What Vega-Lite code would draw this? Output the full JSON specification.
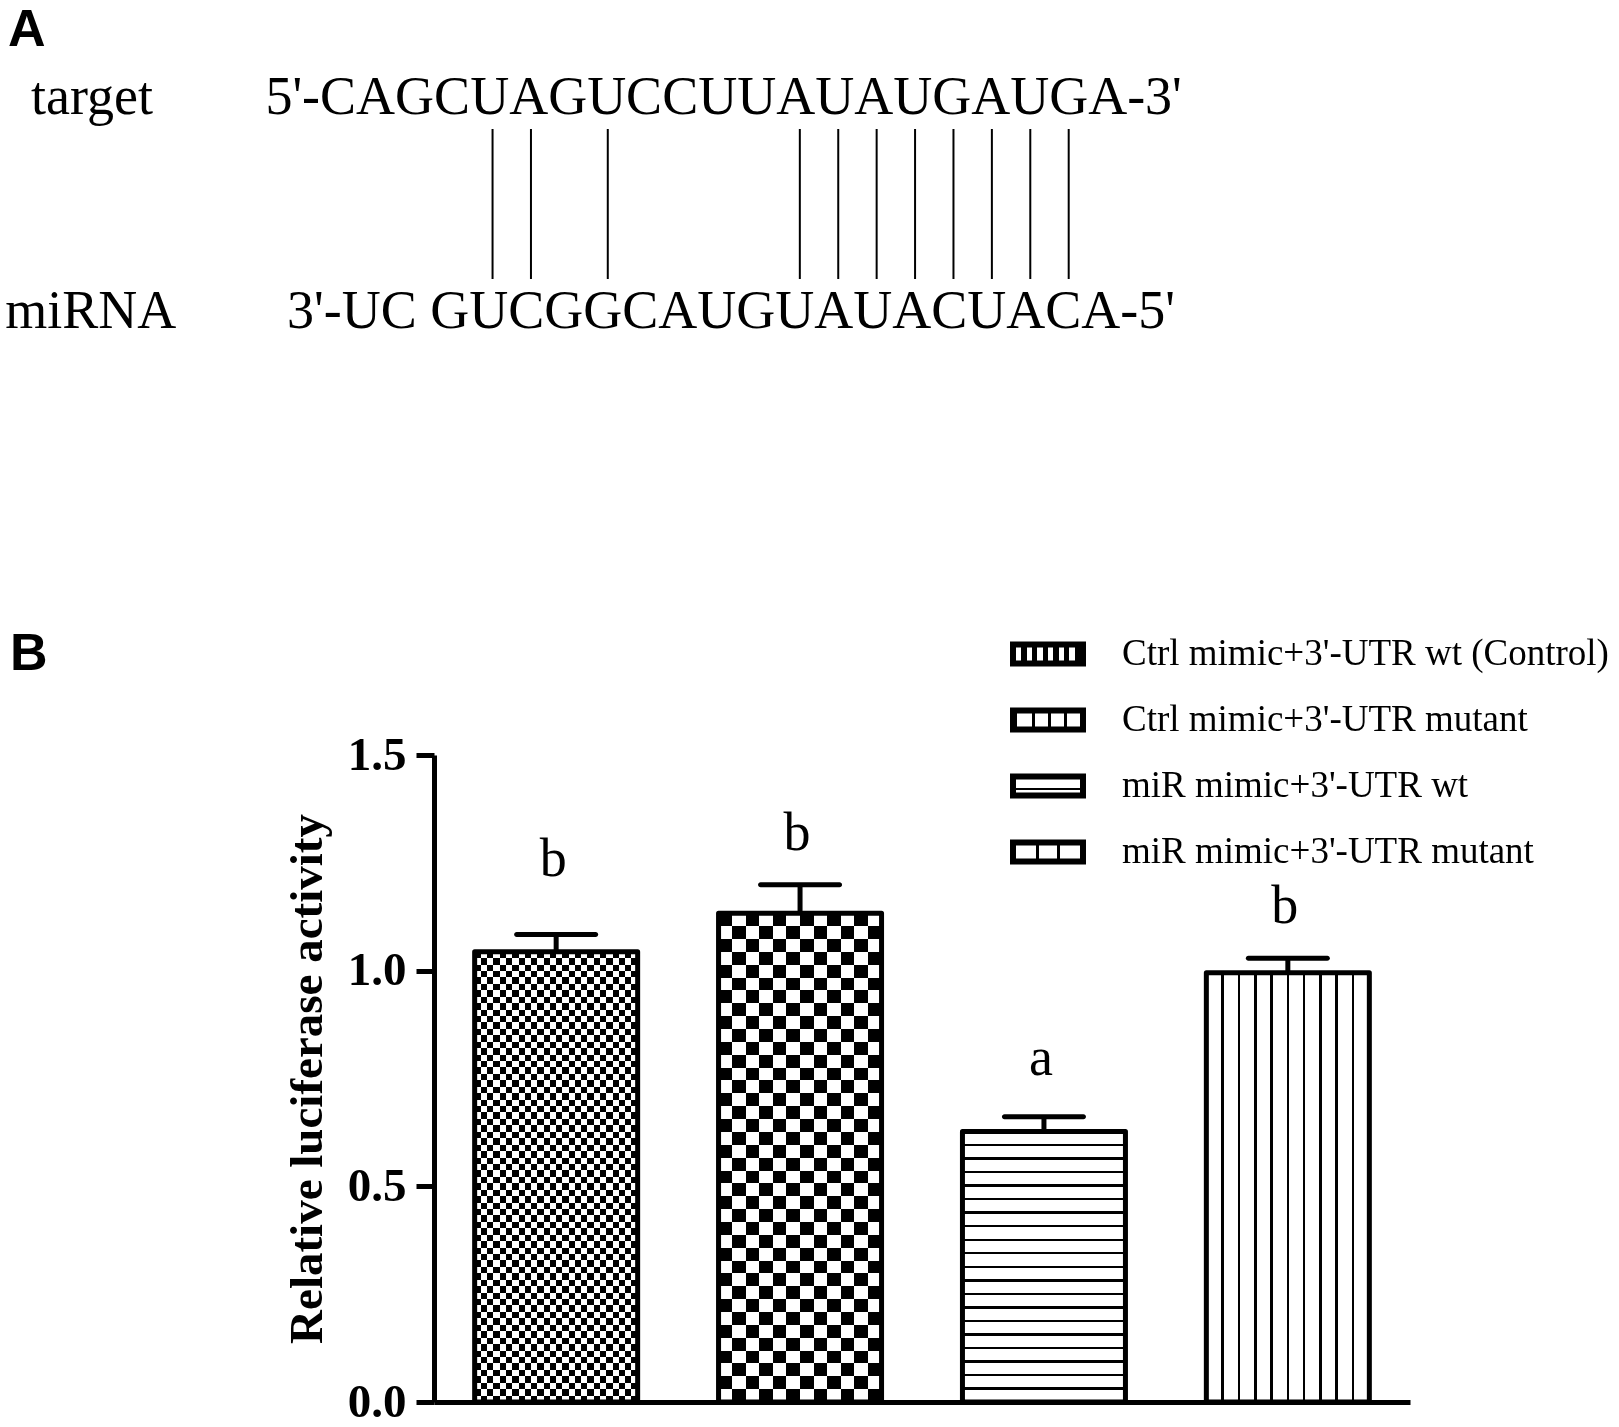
{
"$schema": "https://vega.github.io/schema/vega-lite/v6.json",
"width": 976,
"height": 647,
"autosize": {"type": "none"},
"padding": {"left": 434, "top": 755, "right": 209, "bottom": 25},
"background": "white",
"config": {"view": {"stroke": null}},
"resolve": {"scale": {"x": "independent", "y": "independent"}, "axis": {"x": "independent", "y": "independent"}},
"layer": [
{
 "encoding": {
  "x": {"field": "pos", "type": "quantitative", "scale": {"domain": [0, 20], "range": [-133.5, 634.7], "zero": false, "nice": false}, "axis": null},
  "y": {"field": "row", "type": "quantitative", "scale": {"domain": [0, 1], "range": [-427, -641], "zero": false, "nice": false}, "axis": null}
 },
 "layer": [
  {"data": {"values": [
    {"label": "target", "pos": -7.016, "row": 1},
    {"label": "5'-CAGCUAGUCCUUAUAUGAUGA-3'", "pos": -0.914, "row": 1},
    {"label": "miRNA", "pos": -7.688, "row": 0},
    {"label": "3'-UC GUCGGCAUGUAUACUACA-5'", "pos": -0.351, "row": 0}
   ]},
   "mark": {"type": "text", "font": "Liberation Serif", "fontSize": 54, "align": "left", "baseline": "alphabetic", "color": "black"},
   "encoding": {"text": {"field": "label"}}},
  {"data": {"values": [
    {"pos": 5, "row": 0.229, "row2": 0.93}, {"pos": 6, "row": 0.229, "row2": 0.93}, {"pos": 8, "row": 0.229, "row2": 0.93},
    {"pos": 13, "row": 0.229, "row2": 0.93}, {"pos": 14, "row": 0.229, "row2": 0.93}, {"pos": 15, "row": 0.229, "row2": 0.93},
    {"pos": 16, "row": 0.229, "row2": 0.93}, {"pos": 17, "row": 0.229, "row2": 0.93}, {"pos": 18, "row": 0.229, "row2": 0.93},
    {"pos": 19, "row": 0.229, "row2": 0.93}, {"pos": 20, "row": 0.229, "row2": 0.93}]},
   "mark": {"type": "rule", "color": "black", "strokeWidth": 2},
   "encoding": {"y2": {"field": "row2"}}},
  {"data": {"values": [{"label": "A", "pos": -7.615, "row": 1.318}, {"label": "B", "pos": -7.563, "row": -1.598}]},
   "mark": {"type": "text", "font": "Liberation Sans", "fontWeight": "bold", "fontSize": 52, "align": "left", "baseline": "alphabetic", "color": "black"},
   "encoding": {"text": {"field": "label"}}}
 ]
},
{
 "data": {"values": [
  {"id": 1, "group": "Ctrl mimic+3'-UTR wt (Control)", "value": 1.044, "upper": 1.084, "sig": "b", "label_y": 1.2195},
  {"id": 2, "group": "Ctrl mimic+3'-UTR mutant", "value": 1.133, "upper": 1.199, "sig": "b", "label_y": 1.28},
  {"id": 3, "group": "miR mimic+3'-UTR wt", "value": 0.627, "upper": 0.6615, "sig": "a", "label_y": 0.758},
  {"id": 4, "group": "miR mimic+3'-UTR mutant", "value": 0.995, "upper": 1.029, "sig": "b", "label_y": 1.1105}
 ]},
 "encoding": {
  "x": {"field": "group", "type": "nominal", "sort": null,
        "scale": {"domain": ["Ctrl mimic+3'-UTR wt (Control)", "Ctrl mimic+3'-UTR mutant", "miR mimic+3'-UTR wt", "miR mimic+3'-UTR mutant"], "paddingInner": 0.3317, "paddingOuter": 0.1667},
        "axis": {"orient": "bottom", "title": null, "labels": false, "ticks": false, "grid": false, "domain": true, "domainColor": "black", "domainWidth": 5}},
  "y": {"field": "value", "type": "quantitative", "title": "Relative luciferase activity",
        "scale": {"domain": [0, 1.5], "nice": false, "zero": true},
        "axis": {"orient": "left", "values": [0, 0.5, 1, 1.5], "format": ".1f", "grid": false,
                 "labelFont": "Liberation Serif", "labelFontWeight": "bold", "labelFontSize": 47, "labelColor": "black", "labelPadding": 10, "labelFlush": false, "labelOverlap": false,
                 "tickSize": 18, "tickWidth": 5, "tickColor": "black", "domainWidth": 5, "domainColor": "black",
                 "title": "Relative luciferase activity", "titleFont": "Liberation Serif", "titleFontWeight": "bold", "titleFontSize": 47, "titleColor": "black", "titlePadding": 16}}
 },
 "layer": [
  {"mark": {"type": "bar", "strokeWidth": 0},
   "encoding": {"fill": {"condition": [
     {"test": "datum.id === 1", "value": {"gradient": "linear", "x1": 0, "y1": 0, "x2": 0, "y2": 1, "stops": [
{"offset":0,"color":"#000"},{"offset":0.0143,"color":"#000"},{"offset":0.0143,"color":"#fff"},{"offset":0.0286,"color":"#fff"},
{"offset":0.0286,"color":"#000"},{"offset":0.0429,"color":"#000"},{"offset":0.0429,"color":"#fff"},{"offset":0.0571,"color":"#fff"},
{"offset":0.0571,"color":"#000"},{"offset":0.0714,"color":"#000"},{"offset":0.0714,"color":"#fff"},{"offset":0.0857,"color":"#fff"},
{"offset":0.0857,"color":"#000"},{"offset":0.1,"color":"#000"},{"offset":0.1,"color":"#fff"},{"offset":0.1143,"color":"#fff"},
{"offset":0.1143,"color":"#000"},{"offset":0.1286,"color":"#000"},{"offset":0.1286,"color":"#fff"},{"offset":0.1429,"color":"#fff"},
{"offset":0.1429,"color":"#000"},{"offset":0.1571,"color":"#000"},{"offset":0.1571,"color":"#fff"},{"offset":0.1714,"color":"#fff"},
{"offset":0.1714,"color":"#000"},{"offset":0.1857,"color":"#000"},{"offset":0.1857,"color":"#fff"},{"offset":0.2,"color":"#fff"},
{"offset":0.2,"color":"#000"},{"offset":0.2143,"color":"#000"},{"offset":0.2143,"color":"#fff"},{"offset":0.2286,"color":"#fff"},
{"offset":0.2286,"color":"#000"},{"offset":0.2429,"color":"#000"},{"offset":0.2429,"color":"#fff"},{"offset":0.2571,"color":"#fff"},
{"offset":0.2571,"color":"#000"},{"offset":0.2714,"color":"#000"},{"offset":0.2714,"color":"#fff"},{"offset":0.2857,"color":"#fff"},
{"offset":0.2857,"color":"#000"},{"offset":0.3,"color":"#000"},{"offset":0.3,"color":"#fff"},{"offset":0.3143,"color":"#fff"},
{"offset":0.3143,"color":"#000"},{"offset":0.3286,"color":"#000"},{"offset":0.3286,"color":"#fff"},{"offset":0.3429,"color":"#fff"},
{"offset":0.3429,"color":"#000"},{"offset":0.3571,"color":"#000"},{"offset":0.3571,"color":"#fff"},{"offset":0.3714,"color":"#fff"},
{"offset":0.3714,"color":"#000"},{"offset":0.3857,"color":"#000"},{"offset":0.3857,"color":"#fff"},{"offset":0.4,"color":"#fff"},
{"offset":0.4,"color":"#000"},{"offset":0.4143,"color":"#000"},{"offset":0.4143,"color":"#fff"},{"offset":0.4286,"color":"#fff"},
{"offset":0.4286,"color":"#000"},{"offset":0.4429,"color":"#000"},{"offset":0.4429,"color":"#fff"},{"offset":0.4571,"color":"#fff"},
{"offset":0.4571,"color":"#000"},{"offset":0.4714,"color":"#000"},{"offset":0.4714,"color":"#fff"},{"offset":0.4857,"color":"#fff"},
{"offset":0.4857,"color":"#000"},{"offset":0.5,"color":"#000"},{"offset":0.5,"color":"#fff"},{"offset":0.5143,"color":"#fff"},
{"offset":0.5143,"color":"#000"},{"offset":0.5286,"color":"#000"},{"offset":0.5286,"color":"#fff"},{"offset":0.5429,"color":"#fff"},
{"offset":0.5429,"color":"#000"},{"offset":0.5571,"color":"#000"},{"offset":0.5571,"color":"#fff"},{"offset":0.5714,"color":"#fff"},
{"offset":0.5714,"color":"#000"},{"offset":0.5857,"color":"#000"},{"offset":0.5857,"color":"#fff"},{"offset":0.6,"color":"#fff"},
{"offset":0.6,"color":"#000"},{"offset":0.6143,"color":"#000"},{"offset":0.6143,"color":"#fff"},{"offset":0.6286,"color":"#fff"},
{"offset":0.6286,"color":"#000"},{"offset":0.6429,"color":"#000"},{"offset":0.6429,"color":"#fff"},{"offset":0.6571,"color":"#fff"},
{"offset":0.6571,"color":"#000"},{"offset":0.6714,"color":"#000"},{"offset":0.6714,"color":"#fff"},{"offset":0.6857,"color":"#fff"},
{"offset":0.6857,"color":"#000"},{"offset":0.7,"color":"#000"},{"offset":0.7,"color":"#fff"},{"offset":0.7143,"color":"#fff"},
{"offset":0.7143,"color":"#000"},{"offset":0.7286,"color":"#000"},{"offset":0.7286,"color":"#fff"},{"offset":0.7429,"color":"#fff"},
{"offset":0.7429,"color":"#000"},{"offset":0.7571,"color":"#000"},{"offset":0.7571,"color":"#fff"},{"offset":0.7714,"color":"#fff"},
{"offset":0.7714,"color":"#000"},{"offset":0.7857,"color":"#000"},{"offset":0.7857,"color":"#fff"},{"offset":0.8,"color":"#fff"},
{"offset":0.8,"color":"#000"},{"offset":0.8143,"color":"#000"},{"offset":0.8143,"color":"#fff"},{"offset":0.8286,"color":"#fff"},
{"offset":0.8286,"color":"#000"},{"offset":0.8429,"color":"#000"},{"offset":0.8429,"color":"#fff"},{"offset":0.8571,"color":"#fff"},
{"offset":0.8571,"color":"#000"},{"offset":0.8714,"color":"#000"},{"offset":0.8714,"color":"#fff"},{"offset":0.8857,"color":"#fff"},
{"offset":0.8857,"color":"#000"},{"offset":0.9,"color":"#000"},{"offset":0.9,"color":"#fff"},{"offset":0.9143,"color":"#fff"},
{"offset":0.9143,"color":"#000"},{"offset":0.9286,"color":"#000"},{"offset":0.9286,"color":"#fff"},{"offset":0.9429,"color":"#fff"},
{"offset":0.9429,"color":"#000"},{"offset":0.9571,"color":"#000"},{"offset":0.9571,"color":"#fff"},{"offset":0.9714,"color":"#fff"},
{"offset":0.9714,"color":"#000"},{"offset":0.9857,"color":"#000"},{"offset":0.9857,"color":"#fff"},{"offset":1,"color":"#fff"}
     ]}},
     {"test": "datum.id === 2", "value": {"gradient": "linear", "x1": 0, "y1": 0, "x2": 0, "y2": 1, "stops": [
{"offset":0,"color":"#000"},{"offset":0.0263,"color":"#000"},{"offset":0.0263,"color":"#fff"},{"offset":0.0526,"color":"#fff"},
{"offset":0.0526,"color":"#000"},{"offset":0.0789,"color":"#000"},{"offset":0.0789,"color":"#fff"},{"offset":0.1053,"color":"#fff"},
{"offset":0.1053,"color":"#000"},{"offset":0.1316,"color":"#000"},{"offset":0.1316,"color":"#fff"},{"offset":0.1579,"color":"#fff"},
{"offset":0.1579,"color":"#000"},{"offset":0.1842,"color":"#000"},{"offset":0.1842,"color":"#fff"},{"offset":0.2105,"color":"#fff"},
{"offset":0.2105,"color":"#000"},{"offset":0.2368,"color":"#000"},{"offset":0.2368,"color":"#fff"},{"offset":0.2632,"color":"#fff"},
{"offset":0.2632,"color":"#000"},{"offset":0.2895,"color":"#000"},{"offset":0.2895,"color":"#fff"},{"offset":0.3158,"color":"#fff"},
{"offset":0.3158,"color":"#000"},{"offset":0.3421,"color":"#000"},{"offset":0.3421,"color":"#fff"},{"offset":0.3684,"color":"#fff"},
{"offset":0.3684,"color":"#000"},{"offset":0.3947,"color":"#000"},{"offset":0.3947,"color":"#fff"},{"offset":0.4211,"color":"#fff"},
{"offset":0.4211,"color":"#000"},{"offset":0.4474,"color":"#000"},{"offset":0.4474,"color":"#fff"},{"offset":0.4737,"color":"#fff"},
{"offset":0.4737,"color":"#000"},{"offset":0.5,"color":"#000"},{"offset":0.5,"color":"#fff"},{"offset":0.5263,"color":"#fff"},
{"offset":0.5263,"color":"#000"},{"offset":0.5526,"color":"#000"},{"offset":0.5526,"color":"#fff"},{"offset":0.5789,"color":"#fff"},
{"offset":0.5789,"color":"#000"},{"offset":0.6053,"color":"#000"},{"offset":0.6053,"color":"#fff"},{"offset":0.6316,"color":"#fff"},
{"offset":0.6316,"color":"#000"},{"offset":0.6579,"color":"#000"},{"offset":0.6579,"color":"#fff"},{"offset":0.6842,"color":"#fff"},
{"offset":0.6842,"color":"#000"},{"offset":0.7105,"color":"#000"},{"offset":0.7105,"color":"#fff"},{"offset":0.7368,"color":"#fff"},
{"offset":0.7368,"color":"#000"},{"offset":0.7632,"color":"#000"},{"offset":0.7632,"color":"#fff"},{"offset":0.7895,"color":"#fff"},
{"offset":0.7895,"color":"#000"},{"offset":0.8158,"color":"#000"},{"offset":0.8158,"color":"#fff"},{"offset":0.8421,"color":"#fff"},
{"offset":0.8421,"color":"#000"},{"offset":0.8684,"color":"#000"},{"offset":0.8684,"color":"#fff"},{"offset":0.8947,"color":"#fff"},
{"offset":0.8947,"color":"#000"},{"offset":0.9211,"color":"#000"},{"offset":0.9211,"color":"#fff"},{"offset":0.9474,"color":"#fff"},
{"offset":0.9474,"color":"#000"},{"offset":0.9737,"color":"#000"},{"offset":0.9737,"color":"#fff"},{"offset":1,"color":"#fff"}
     ]}},
     {"test": "datum.id === 3", "value": {"gradient": "linear", "x1": 0, "y1": 0, "x2": 0, "y2": 1, "stops": [
{"offset":0,"color":"#fff"},
{"offset":0.0455,"color":"#fff"},{"offset":0.0455,"color":"#000"},{"offset":0.0545,"color":"#000"},{"offset":0.0545,"color":"#fff"},
{"offset":0.0955,"color":"#fff"},{"offset":0.0955,"color":"#000"},{"offset":0.1045,"color":"#000"},{"offset":0.1045,"color":"#fff"},
{"offset":0.1455,"color":"#fff"},{"offset":0.1455,"color":"#000"},{"offset":0.1545,"color":"#000"},{"offset":0.1545,"color":"#fff"},
{"offset":0.1955,"color":"#fff"},{"offset":0.1955,"color":"#000"},{"offset":0.2045,"color":"#000"},{"offset":0.2045,"color":"#fff"},
{"offset":0.2455,"color":"#fff"},{"offset":0.2455,"color":"#000"},{"offset":0.2545,"color":"#000"},{"offset":0.2545,"color":"#fff"},
{"offset":0.2955,"color":"#fff"},{"offset":0.2955,"color":"#000"},{"offset":0.3045,"color":"#000"},{"offset":0.3045,"color":"#fff"},
{"offset":0.3455,"color":"#fff"},{"offset":0.3455,"color":"#000"},{"offset":0.3545,"color":"#000"},{"offset":0.3545,"color":"#fff"},
{"offset":0.3955,"color":"#fff"},{"offset":0.3955,"color":"#000"},{"offset":0.4045,"color":"#000"},{"offset":0.4045,"color":"#fff"},
{"offset":0.4455,"color":"#fff"},{"offset":0.4455,"color":"#000"},{"offset":0.4545,"color":"#000"},{"offset":0.4545,"color":"#fff"},
{"offset":0.4955,"color":"#fff"},{"offset":0.4955,"color":"#000"},{"offset":0.5045,"color":"#000"},{"offset":0.5045,"color":"#fff"},
{"offset":0.5455,"color":"#fff"},{"offset":0.5455,"color":"#000"},{"offset":0.5545,"color":"#000"},{"offset":0.5545,"color":"#fff"},
{"offset":0.5955,"color":"#fff"},{"offset":0.5955,"color":"#000"},{"offset":0.6045,"color":"#000"},{"offset":0.6045,"color":"#fff"},
{"offset":0.6455,"color":"#fff"},{"offset":0.6455,"color":"#000"},{"offset":0.6545,"color":"#000"},{"offset":0.6545,"color":"#fff"},
{"offset":0.6955,"color":"#fff"},{"offset":0.6955,"color":"#000"},{"offset":0.7045,"color":"#000"},{"offset":0.7045,"color":"#fff"},
{"offset":0.7455,"color":"#fff"},{"offset":0.7455,"color":"#000"},{"offset":0.7545,"color":"#000"},{"offset":0.7545,"color":"#fff"},
{"offset":0.7955,"color":"#fff"},{"offset":0.7955,"color":"#000"},{"offset":0.8045,"color":"#000"},{"offset":0.8045,"color":"#fff"},
{"offset":0.8455,"color":"#fff"},{"offset":0.8455,"color":"#000"},{"offset":0.8545,"color":"#000"},{"offset":0.8545,"color":"#fff"},
{"offset":0.8955,"color":"#fff"},{"offset":0.8955,"color":"#000"},{"offset":0.9045,"color":"#000"},{"offset":0.9045,"color":"#fff"},
{"offset":0.9455,"color":"#fff"},{"offset":0.9455,"color":"#000"},{"offset":0.9545,"color":"#000"},{"offset":0.9545,"color":"#fff"},
{"offset":1,"color":"#fff"}
     ]}},
     {"test": "datum.id === 4", "value": {"gradient": "linear", "x1": 0, "y1": 0, "x2": 1, "y2": 0, "stops": [
{"offset":0,"color":"#fff"},
{"offset":0.092,"color":"#fff"},{"offset":0.092,"color":"#000"},{"offset":0.108,"color":"#000"},{"offset":0.108,"color":"#fff"},
{"offset":0.192,"color":"#fff"},{"offset":0.192,"color":"#000"},{"offset":0.208,"color":"#000"},{"offset":0.208,"color":"#fff"},
{"offset":0.292,"color":"#fff"},{"offset":0.292,"color":"#000"},{"offset":0.308,"color":"#000"},{"offset":0.308,"color":"#fff"},
{"offset":0.392,"color":"#fff"},{"offset":0.392,"color":"#000"},{"offset":0.408,"color":"#000"},{"offset":0.408,"color":"#fff"},
{"offset":0.492,"color":"#fff"},{"offset":0.492,"color":"#000"},{"offset":0.508,"color":"#000"},{"offset":0.508,"color":"#fff"},
{"offset":0.592,"color":"#fff"},{"offset":0.592,"color":"#000"},{"offset":0.608,"color":"#000"},{"offset":0.608,"color":"#fff"},
{"offset":0.692,"color":"#fff"},{"offset":0.692,"color":"#000"},{"offset":0.708,"color":"#000"},{"offset":0.708,"color":"#fff"},
{"offset":0.792,"color":"#fff"},{"offset":0.792,"color":"#000"},{"offset":0.808,"color":"#000"},{"offset":0.808,"color":"#fff"},
{"offset":0.892,"color":"#fff"},{"offset":0.892,"color":"#000"},{"offset":0.908,"color":"#000"},{"offset":0.908,"color":"#fff"},
{"offset":1,"color":"#fff"}
     ]}}
    ], "value": "white"}}},
  {"transform": [{"filter": "datum.id <= 2"}],
   "mark": {"type": "bar", "strokeWidth": 0, "blend": "difference"},
   "encoding": {"fill": {"condition": {"test": "datum.id === 1", "value": {"gradient": "linear", "x1": 0, "y1": 0, "x2": 1, "y2": 0, "stops": [
{"offset":0,"color":"#000"},{"offset":0.0385,"color":"#000"},{"offset":0.0385,"color":"#fff"},{"offset":0.0769,"color":"#fff"},
{"offset":0.0769,"color":"#000"},{"offset":0.1154,"color":"#000"},{"offset":0.1154,"color":"#fff"},{"offset":0.1538,"color":"#fff"},
{"offset":0.1538,"color":"#000"},{"offset":0.1923,"color":"#000"},{"offset":0.1923,"color":"#fff"},{"offset":0.2308,"color":"#fff"},
{"offset":0.2308,"color":"#000"},{"offset":0.2692,"color":"#000"},{"offset":0.2692,"color":"#fff"},{"offset":0.3077,"color":"#fff"},
{"offset":0.3077,"color":"#000"},{"offset":0.3462,"color":"#000"},{"offset":0.3462,"color":"#fff"},{"offset":0.3846,"color":"#fff"},
{"offset":0.3846,"color":"#000"},{"offset":0.4231,"color":"#000"},{"offset":0.4231,"color":"#fff"},{"offset":0.4615,"color":"#fff"},
{"offset":0.4615,"color":"#000"},{"offset":0.5,"color":"#000"},{"offset":0.5,"color":"#fff"},{"offset":0.5385,"color":"#fff"},
{"offset":0.5385,"color":"#000"},{"offset":0.5769,"color":"#000"},{"offset":0.5769,"color":"#fff"},{"offset":0.6154,"color":"#fff"},
{"offset":0.6154,"color":"#000"},{"offset":0.6538,"color":"#000"},{"offset":0.6538,"color":"#fff"},{"offset":0.6923,"color":"#fff"},
{"offset":0.6923,"color":"#000"},{"offset":0.7308,"color":"#000"},{"offset":0.7308,"color":"#fff"},{"offset":0.7692,"color":"#fff"},
{"offset":0.7692,"color":"#000"},{"offset":0.8077,"color":"#000"},{"offset":0.8077,"color":"#fff"},{"offset":0.8462,"color":"#fff"},
{"offset":0.8462,"color":"#000"},{"offset":0.8846,"color":"#000"},{"offset":0.8846,"color":"#fff"},{"offset":0.9231,"color":"#fff"},
{"offset":0.9231,"color":"#000"},{"offset":0.9615,"color":"#000"},{"offset":0.9615,"color":"#fff"},{"offset":1,"color":"#fff"}
    ]}},
    "value": {"gradient": "linear", "x1": 0, "y1": 0, "x2": 1, "y2": 0, "stops": [
{"offset":0,"color":"#000"},{"offset":0.0833,"color":"#000"},{"offset":0.0833,"color":"#fff"},{"offset":0.1667,"color":"#fff"},
{"offset":0.1667,"color":"#000"},{"offset":0.25,"color":"#000"},{"offset":0.25,"color":"#fff"},{"offset":0.3333,"color":"#fff"},
{"offset":0.3333,"color":"#000"},{"offset":0.4167,"color":"#000"},{"offset":0.4167,"color":"#fff"},{"offset":0.5,"color":"#fff"},
{"offset":0.5,"color":"#000"},{"offset":0.5833,"color":"#000"},{"offset":0.5833,"color":"#fff"},{"offset":0.6667,"color":"#fff"},
{"offset":0.6667,"color":"#000"},{"offset":0.75,"color":"#000"},{"offset":0.75,"color":"#fff"},{"offset":0.8333,"color":"#fff"},
{"offset":0.8333,"color":"#000"},{"offset":0.9167,"color":"#000"},{"offset":0.9167,"color":"#fff"},{"offset":1,"color":"#fff"}
    ]}}}},
  {"mark": {"type": "bar", "fill": "transparent", "stroke": "black", "strokeWidth": 5, "strokeJoin": "round"}},
  {"mark": {"type": "rule", "color": "black", "strokeWidth": 5},
   "encoding": {"y2": {"field": "upper"}}},
  {"mark": {"type": "tick", "color": "black", "opacity": 1, "thickness": 5, "size": 84, "cornerRadius": 2.5},
   "encoding": {"y": {"field": "upper", "type": "quantitative", "title": "Relative luciferase activity"}}},
  {"mark": {"type": "text", "font": "Liberation Serif", "fontSize": 54, "baseline": "alphabetic", "dx": -3, "color": "black"},
   "encoding": {"y": {"field": "label_y", "type": "quantitative", "title": "Relative luciferase activity"}, "text": {"field": "sig"}}},
  {"transform": [{"filter": "false"}],
   "mark": {"type": "bar"},
   "encoding": {"fill": {"field": "group", "type": "nominal",
     "scale": {"domain": ["Ctrl mimic+3'-UTR wt (Control)", "Ctrl mimic+3'-UTR mutant", "miR mimic+3'-UTR wt", "miR mimic+3'-UTR mutant"],
       "range": [
        {"expr": "{gradient:'linear',x1:0,y1:0,x2:1,y2:0,stops:[{offset:0,color:'#000'},{offset:0.043,color:'#000'},{offset:0.043,color:'#fff'},{offset:0.119,color:'#fff'},{offset:0.119,color:'#000'},{offset:0.195,color:'#000'},{offset:0.195,color:'#fff'},{offset:0.272,color:'#fff'},{offset:0.272,color:'#000'},{offset:0.348,color:'#000'},{offset:0.348,color:'#fff'},{offset:0.424,color:'#fff'},{offset:0.424,color:'#000'},{offset:0.5,color:'#000'},{offset:0.5,color:'#fff'},{offset:0.576,color:'#fff'},{offset:0.576,color:'#000'},{offset:0.652,color:'#000'},{offset:0.652,color:'#fff'},{offset:0.728,color:'#fff'},{offset:0.728,color:'#000'},{offset:0.805,color:'#000'},{offset:0.805,color:'#fff'},{offset:0.881,color:'#fff'},{offset:0.881,color:'#000'},{offset:1,color:'#000'}]}"},
        {"expr": "{gradient:'linear',x1:0,y1:0,x2:1,y2:0,stops:[{offset:0,color:'#000'},{offset:0.05,color:'#000'},{offset:0.05,color:'#fff'},{offset:0.27,color:'#fff'},{offset:0.27,color:'#000'},{offset:0.31,color:'#000'},{offset:0.31,color:'#fff'},{offset:0.5,color:'#fff'},{offset:0.5,color:'#000'},{offset:0.54,color:'#000'},{offset:0.54,color:'#fff'},{offset:0.73,color:'#fff'},{offset:0.73,color:'#000'},{offset:0.77,color:'#000'},{offset:0.77,color:'#fff'},{offset:0.95,color:'#fff'},{offset:0.95,color:'#000'},{offset:1,color:'#000'}]}"},
        {"expr": "{gradient:'linear',x1:0,y1:0,x2:0,y2:1,stops:[{offset:0,color:'#fff'},{offset:0.62,color:'#fff'},{offset:0.62,color:'#000'},{offset:0.72,color:'#000'},{offset:0.72,color:'#fff'},{offset:1,color:'#fff'}]}"},
        {"expr": "{gradient:'linear',x1:0,y1:0,x2:1,y2:0,stops:[{offset:0,color:'#fff'},{offset:0.33,color:'#fff'},{offset:0.33,color:'#000'},{offset:0.37,color:'#000'},{offset:0.37,color:'#fff'},{offset:0.63,color:'#fff'},{offset:0.63,color:'#000'},{offset:0.67,color:'#000'},{offset:0.67,color:'#fff'},{offset:1,color:'#fff'}]}"}
       ]},
     "legend": {"orient": "none", "legendX": 595.5, "legendY": -119.5, "title": null, "padding": 0,
       "symbolType": "M-2.5,-0.68H2.5V0.68H-2.5Z", "symbolSize": 784, "symbolStrokeColor": "black", "symbolStrokeWidth": 6, "symbolOpacity": 1,
       "labelFont": "Liberation Serif", "labelFontSize": 37, "labelColor": "black", "labelLimit": 1000, "labelOffset": 55.5, "rowPadding": 21}}}}
 ]
}
]
}
